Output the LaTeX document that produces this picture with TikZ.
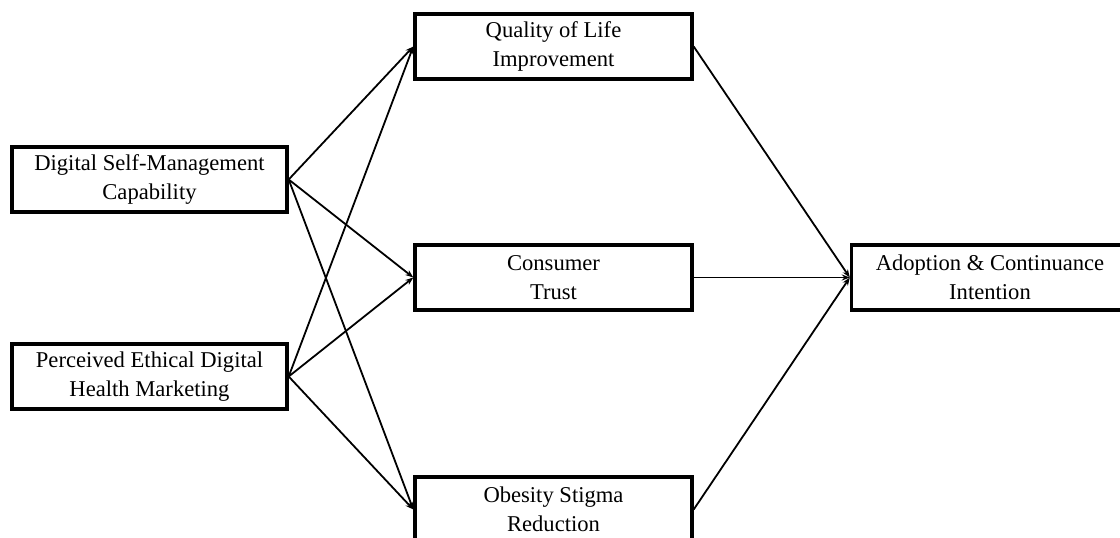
\documentclass[tikz,border=0pt]{standalone}
\usepackage{fontspec}
\setmainfont{Liberation Serif}
\usetikzlibrary{arrows.meta}
\tikzset{
	% ------- every something
	every picture/.style={
		x=1pt, y=-1pt,
	},
	every node/.style={
		font=\fontsize{22.6}{29}\selectfont,
	},
	% ------- custom
	construct box/.style={
		draw, line width=3.4pt, fill=white,
		minimum width=277pt, minimum height=65pt,
		inner sep=0pt, align=center,
	},
	effect/.style={
		line width=1.8pt,
		-{Stealth[length=8pt, width=6pt]},
	},
}

\begin{document}
\begin{tikzpicture}

% canvas %{{{1

	\clip (0,0) rectangle (1120,538);

% coordinates %{{{1

	\coordinate (Pdsm) at (149.5,179.5);
	\coordinate (Ppedm) at (149.5,376.5);
	\coordinate (Pqol) at (553.5,46.5);
	\coordinate (Ptrust) at (553.5,277.5);
	\coordinate (Posr) at (553.5,509.5);
	\coordinate (Paci) at (990,277.5);

% constructs, boxes %{{{1

	\node[construct box, minimum width=275pt] (dsm) at (Pdsm) {Digital Self-Management\\Capability};
	\node[construct box, minimum width=275pt] (pedm) at (Ppedm) {Perceived Ethical Digital\\Health Marketing};
	\node[construct box] (qol) at (Pqol) {Quality of Life\\Improvement};
	\node[construct box] (trust) at (Ptrust) {Consumer\\Trust};
	\node[construct box] (osr) at (Posr) {Obesity Stigma\\Reduction};
	\node[construct box] (aci) at (Paci) {Adoption \& Continuance\\Intention};

% paths, effects %{{{1

	\draw[effect] (dsm.east) -- (qol.west);
	\draw[effect] (dsm.east) -- (trust.west);
	\draw[effect] (dsm.east) -- (osr.west);

	\draw[effect] (pedm.east) -- (qol.west);
	\draw[effect] (pedm.east) -- (trust.west);
	\draw[effect] (pedm.east) -- (osr.west);

	\draw[effect] (qol.east) -- (aci.west);
	\draw[effect] (trust.east) -- (aci.west);
	\draw[effect] (osr.east) -- (aci.west);

% closing %{{{1

\end{tikzpicture}
\end{document}
